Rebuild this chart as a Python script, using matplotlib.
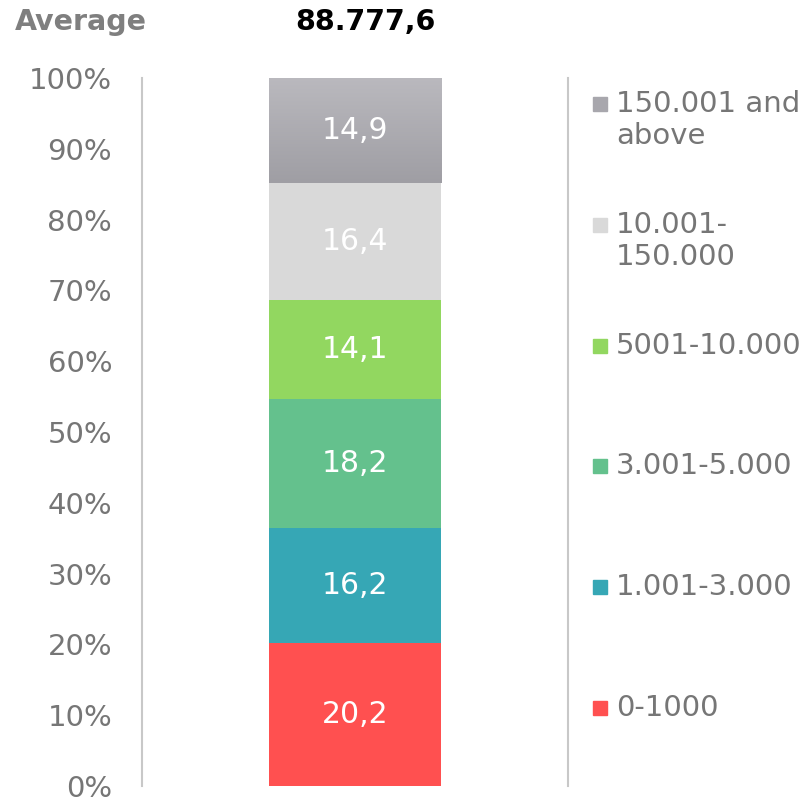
import matplotlib.pyplot as plt
import numpy as np
from matplotlib.colors import LinearSegmentedColormap

plt.rcParams.update({'font.family': 'DejaVu Sans'})

# data, bottom to top
groups = ['0-1000', '1.001-3.000', '3.001-5.000', '5001-10.000',
          '10.001-\n150.000', '150.001 and\nabove']
shares = [20.2, 16.2, 18.2, 14.1, 16.4, 14.9]
colors = ['#FF5050', '#36A7B5', '#64C18D', '#92D760', '#D9D9D9', '#A8A7AD']
average_label = 'Average'
average_value = '88.777,6'

fig = plt.figure(figsize=(8.11, 8.0), dpi=100)
ax = fig.add_axes([142/811, 14/800, 426/811, 708/800])

bw = 0.404
bottom = 0
for i, (v, c) in enumerate(zip(shares, colors)):
    if i == len(shares) - 1:
        # top segment has a soft vertical gradient
        grad = np.linspace(0, 1, 100).reshape(-1, 1)
        cm = LinearSegmentedColormap.from_list('g', ['#9F9EA4', '#BAB9BE'])
        ax.imshow(grad, cmap=cm, aspect='auto', origin='lower',
                  extent=(-bw/2, bw/2, bottom, bottom + v), zorder=2)
    else:
        ax.bar(0, v, bw, bottom=bottom, color=c, zorder=2)
    ax.text(0, bottom + v/2, f'{v:.1f}'.replace('.', ','), ha='center',
            va='center', color='white', fontsize=21.5, zorder=3)
    bottom += v

ax.set_xlim(-0.5, 0.5)
ax.set_ylim(0, 100)
ax.set_yticks(np.arange(0, 101, 10))
ax.set_yticklabels([f'{t}%' for t in range(0, 101, 10)])
ax.tick_params(axis='y', length=0, pad=21.5, labelsize=21, labelcolor='#767676')
ax.set_xticks([])
for s in ['top', 'bottom']:
    ax.spines[s].set_visible(False)
for s in ['left', 'right']:
    ax.spines[s].set_color('#C8C8C8')
    ax.spines[s].set_linewidth(1.5)

# legend drawn by hand, bottom entry first
for i, (g, c) in enumerate(zip(groups, colors)):
    y = 1 - (708 - i*120.8)/800
    fig.patches.append(plt.Rectangle((593/811, y - 7/800), 14/811, 14/800,
                                     color=c, transform=fig.transFigure))
    fig.text(616/811, y + 14/800, g, ha='left', va='top', fontsize=21,
             color='#767676', linespacing=1.18)

fig.text(15/811, 1 - 22/800, average_label, ha='left', va='center',
         fontsize=20.5, fontweight='bold', color='#7F7F7F')
fig.text(365/811, 1 - 22/800, average_value, ha='center', va='center',
         fontsize=20.5, fontweight='bold', color='black')

fig.savefig('out.png', dpi=100)
